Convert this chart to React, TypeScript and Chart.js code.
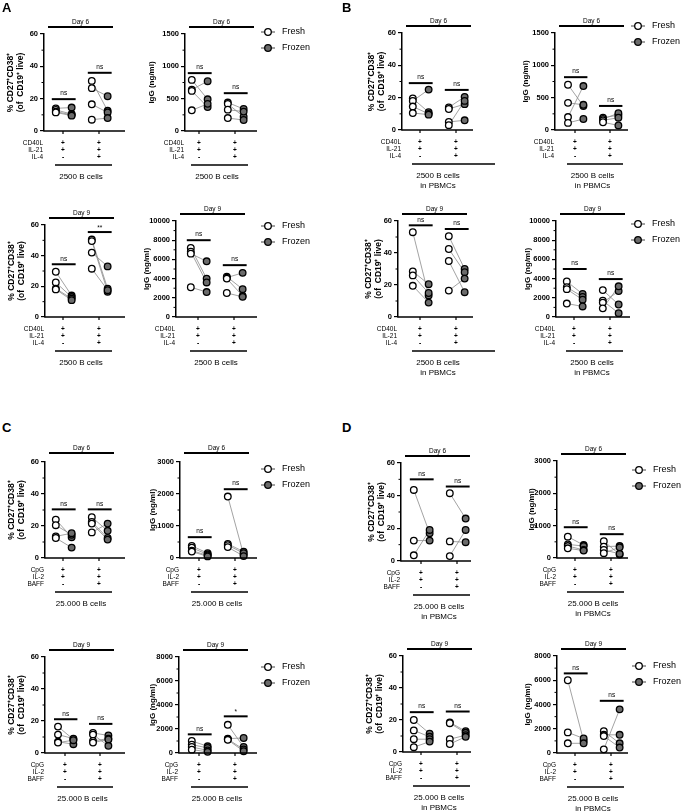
import React, { useEffect, useRef } from "react";
import { Chart, registerables } from "chart.js";
Chart.register(...registerables);

const FONT = "'Liberation Sans', Arial, Helvetica, sans-serif";
const GREY = "#6b6b6b";

// ---------- text ----------
const PCT_TITLE = ["% CD27⁺CD38⁺", "(of  CD19⁺ live)"];
const IGG_TITLE = "IgG (ng/ml)";
const AB_ROWS = ["CD40L", "IL-21", "IL-4"];
const CD_ROWS = ["CpG", "IL-2", "BAFF"];
const SIGNS_G1 = ["+", "+", "-"];
const SIGNS_G2 = ["+", "+", "+"];
const CAP_A = ["2500 B cells"];
const CAP_B = ["2500 B cells", "in PBMCs"];
const CAP_C = ["25.000 B cells"];
const CAP_D = ["25.000 B cells", "in PBMCs"];
const SERIES = ["Fresh", "Frozen"];
const LETTERS = ["A", "B", "C", "D"];

// ---------- data: [group1, group2], donors paired by index ----------
const A_PCT_D6_FRESH = [[14, 13, 12, 11.5], [31, 26.5, 16.5, 7]];
const A_PCT_D6_FROZEN = [[14.5, 10.5, 10, 9.5], [12.5, 21.5, 11.5, 8]];
const A_PCT_D6_SIG = ["ns", "ns"];
const A_PCT_D6_SIGY = [19.7, 36];

const A_IGG_D6_FRESH = [[790, 640, 620, 320], [440, 420, 330, 200]];
const A_IGG_D6_FROZEN = [[490, 770, 370, 420], [340, 220, 300, 170]];
const A_IGG_D6_SIG = ["ns", "ns"];
const A_IGG_D6_SIGY = [895, 585];

const A_PCT_D9_FRESH = [[29.5, 22.5, 18.5, 18], [50.5, 49.5, 42, 31.5]];
const A_PCT_D9_FROZEN = [[14, 13, 12, 11], [18.5, 16.5, 33, 17.5]];
const A_PCT_D9_SIG = ["ns", "**"];
const A_PCT_D9_SIGY = [34.4, 55.4];

const A_IGG_D9_FRESH = [[7200, 6800, 6600, 3100], [4200, 4100, 4000, 2500]];
const A_IGG_D9_FROZEN = [[4000, 3600, 5800, 2600], [2900, 4600, 2200, 2100]];
const A_IGG_D9_SIG = ["ns", "ns"];
const A_IGG_D9_SIGY = [8000, 5400];

const B_PCT_D6_FRESH = [[19.5, 18, 14.5, 10.5], [14, 13, 5, 3]];
const B_PCT_D6_FROZEN = [[11, 25, 10, 9.5], [20.5, 16, 6, 18]];
const B_PCT_D6_SIG = ["ns", "ns"];
const B_PCT_D6_SIGY = [29, 24.8];

const B_IGG_D6_FRESH = [[700, 420, 200, 110], [190, 170, 150, 120]];
const B_IGG_D6_FROZEN = [[370, 390, 680, 170], [230, 260, 190, 70]];
const B_IGG_D6_SIG = ["ns", "ns"];
const B_IGG_D6_SIGY = [817, 372];

const B_PCT_D9_FRESH = [[53, 28.5, 26, 19.5], [50.5, 42.5, 35, 16.5]];
const B_PCT_D9_FROZEN = [[13.5, 20.5, 15, 9], [30, 28, 15.5, 24]];
const B_PCT_D9_SIG = ["ns", "ns"];
const B_PCT_D9_SIGY = [57.3, 55];

const B_IGG_D9_FRESH = [[3700, 3100, 2900, 1400], [2800, 1700, 1500, 900]];
const B_IGG_D9_FROZEN = [[2400, 2100, 1800, 1100], [1300, 400, 2700, 3200]];
const B_IGG_D9_SIG = ["ns", "ns"];
const B_IGG_D9_SIGY = [5000, 3950];

const C_PCT_D6_FRESH = [[24, 20.5, 13.5, 12.5], [25.5, 22.5, 21.5, 16]];
const C_PCT_D6_FROZEN = [[13, 14.5, 15.5, 6.5], [17, 12.5, 11.5, 21.5]];
const C_PCT_D6_SIG = ["ns", "ns"];
const C_PCT_D6_SIGY = [30.4, 30.4];

const C_IGG_D6_FRESH = [[380, 320, 230, 200], [1920, 440, 400, 340]];
const C_IGG_D6_FROZEN = [[150, 110, 80, 50], [100, 200, 150, 60]];
const C_IGG_D6_SIG = ["ns", "ns"];
const C_IGG_D6_SIGY = [651, 2150];

const C_PCT_D9_FRESH = [[16.5, 11.5, 7, 6.5], [12.5, 11.5, 7.5, 6.5]];
const C_PCT_D9_FROZEN = [[8.5, 9, 5.5, 8], [11, 4.5, 9, 8.5]];
const C_PCT_D9_SIG = ["ns", "ns"];
const C_PCT_D9_SIGY = [21.1, 18.2];

const C_IGG_D9_FRESH = [[1000, 700, 500, 280], [2350, 1200, 1150, 1100]];
const C_IGG_D9_FROZEN = [[560, 420, 220, 100], [500, 1250, 300, 150]];
const C_IGG_D9_SIG = ["ns", "*"];
const C_IGG_D9_SIGY = [1555, 3055];

const D_PCT_D6_FRESH = [[43.5, 12.5, 3.5], [41.5, 12, 3]];
const D_PCT_D6_FROZEN = [[17, 12.5, 19], [26, 11.5, 19]];
const D_PCT_D6_SIG = ["ns", "ns"];
const D_PCT_D6_SIGY = [50, 45.6];

const D_IGG_D6_FRESH = [[660, 420, 370, 300], [520, 350, 250, 150]];
const D_IGG_D6_FROZEN = [[400, 370, 250, 230], [110, 370, 130, 330]];
const D_IGG_D6_SIG = ["ns", "ns"];
const D_IGG_D6_SIGY = [952, 737];

const D_PCT_D9_FRESH = [[20, 13.5, 8, 3], [18.5, 18, 8, 5]];
const D_PCT_D9_FROZEN = [[11.5, 9.5, 8, 6.5], [13, 12, 10.5, 9.5]];
const D_PCT_D9_SIG = ["ns", "ns"];
const D_PCT_D9_SIGY = [24.9, 25.3];

const D_IGG_D9_FRESH = [[6000, 1700, 800], [1800, 1500, 1400, 300]];
const D_IGG_D9_FROZEN = [[1000, 1200, 800], [800, 1500, 450, 3600]];
const D_IGG_D9_SIG = ["ns", "ns"];
const D_IGG_D9_SIGY = [6566, 4303];

// ---------- subplot layout (page pixel boxes of each plot area) ----------
const PCT = { title: PCT_TITLE, yMax: 60, yStep: 20, yMinor: 10 };
const SUBPLOTS: any[] = [
  { ...PCT, L: 44, T: 34, R: 125, B: 131, g1: 19, g2: 55, leftW: 38, day: "Day 6", fresh: A_PCT_D6_FRESH, frozen: A_PCT_D6_FROZEN, sig: A_PCT_D6_SIG, sigY: A_PCT_D6_SIGY, rows: AB_ROWS, caption: CAP_A },
  { title: IGG_TITLE, yMax: 1500, yStep: 500, yMinor: 250, L: 185, T: 34, R: 257, B: 131, g1: 14, g2: 50, leftW: 38, day: "Day 6", fresh: A_IGG_D6_FRESH, frozen: A_IGG_D6_FROZEN, sig: A_IGG_D6_SIG, sigY: A_IGG_D6_SIGY, rows: AB_ROWS, caption: CAP_A, legendDy: -2, legendX: 268 },
  { ...PCT, L: 45, T: 225, R: 125, B: 317, g1: 18, g2: 54, leftW: 38, day: "Day 9", fresh: A_PCT_D9_FRESH, frozen: A_PCT_D9_FROZEN, sig: A_PCT_D9_SIG, sigY: A_PCT_D9_SIGY, rows: AB_ROWS, caption: CAP_A },
  { title: IGG_TITLE, yMax: 10000, yStep: 2000, yMinor: 1000, L: 176, T: 221, R: 257, B: 317, g1: 22, g2: 58, leftW: 34, day: "Day 9", fresh: A_IGG_D9_FRESH, frozen: A_IGG_D9_FROZEN, sig: A_IGG_D9_SIG, sigY: A_IGG_D9_SIGY, rows: AB_ROWS, caption: CAP_A, legendDy: 5, legendX: 268 },

  { ...PCT, L: 402, T: 33, R: 473, B: 130, g1: 18, g2: 54, leftW: 35, lineR: 26, day: "Day 6", fresh: B_PCT_D6_FRESH, frozen: B_PCT_D6_FROZEN, sig: B_PCT_D6_SIG, sigY: B_PCT_D6_SIGY, rows: AB_ROWS, caption: CAP_B },
  { title: IGG_TITLE, yMax: 1500, yStep: 500, yMinor: 250, L: 555, T: 33, R: 628, B: 130, g1: 20, g2: 55, leftW: 34, day: "Day 6", fresh: B_IGG_D6_FRESH, frozen: B_IGG_D6_FROZEN, sig: B_IGG_D6_SIG, sigY: B_IGG_D6_SIGY, rows: AB_ROWS, caption: CAP_B, legendDy: -7, legendX: 638 },
  { ...PCT, L: 398, T: 221, R: 473, B: 317, g1: 22, g2: 58, leftW: 34, lineR: 26, day: "Day 9", fresh: B_PCT_D9_FRESH, frozen: B_PCT_D9_FROZEN, sig: B_PCT_D9_SIG, sigY: B_PCT_D9_SIGY, rows: AB_ROWS, caption: CAP_B },
  { title: IGG_TITLE, yMax: 10000, yStep: 2000, yMinor: 1000, L: 556, T: 221, R: 630, B: 317, g1: 18, g2: 54, leftW: 33, day: "Day 9", fresh: B_IGG_D9_FRESH, frozen: B_IGG_D9_FROZEN, sig: B_IGG_D9_SIG, sigY: B_IGG_D9_SIGY, rows: AB_ROWS, caption: CAP_B, legendDy: 3, legendX: 638 },

  { ...PCT, L: 45, T: 462, R: 125, B: 558, g1: 18, g2: 54, leftW: 38, dayDy: 9, day: "Day 6", fresh: C_PCT_D6_FRESH, frozen: C_PCT_D6_FROZEN, sig: C_PCT_D6_SIG, sigY: C_PCT_D6_SIGY, rows: CD_ROWS, caption: CAP_C },
  { title: IGG_TITLE, yMax: 3000, yStep: 1000, yMinor: 500, L: 180, T: 462, R: 257, B: 558, g1: 19, g2: 55, leftW: 32, dayDy: 9, day: "Day 6", fresh: C_IGG_D6_FRESH, frozen: C_IGG_D6_FROZEN, sig: C_IGG_D6_SIG, sigY: C_IGG_D6_SIGY, rows: CD_ROWS, caption: CAP_C, legendDy: 7, legendX: 268 },
  { ...PCT, L: 45, T: 657, R: 125, B: 753, g1: 20, g2: 55, leftW: 38, day: "Day 9", fresh: C_PCT_D9_FRESH, frozen: C_PCT_D9_FROZEN, sig: C_PCT_D9_SIG, sigY: C_PCT_D9_SIGY, rows: CD_ROWS, caption: CAP_C },
  { title: IGG_TITLE, yMax: 8000, yStep: 2000, yMinor: 1000, L: 179, T: 657, R: 257, B: 753, g1: 20, g2: 56, leftW: 31, day: "Day 9", fresh: C_IGG_D9_FRESH, frozen: C_IGG_D9_FROZEN, sig: C_IGG_D9_SIG, sigY: C_IGG_D9_SIGY, rows: CD_ROWS, caption: CAP_C, legendDy: 10, legendX: 268 },

  { ...PCT, L: 401, T: 463, R: 471, B: 561, g1: 20, g2: 56, leftW: 34, day: "Day 6", fresh: D_PCT_D6_FRESH, frozen: D_PCT_D6_FROZEN, sig: D_PCT_D6_SIG, sigY: D_PCT_D6_SIGY, rows: CD_ROWS, caption: CAP_D },
  { title: IGG_TITLE, yMax: 3000, yStep: 1000, yMinor: 500, L: 557, T: 461, R: 628, B: 558, g1: 18, g2: 54, leftW: 30, day: "Day 6", fresh: D_IGG_D6_FRESH, frozen: D_IGG_D6_FROZEN, sig: D_IGG_D6_SIG, sigY: D_IGG_D6_SIGY, rows: CD_ROWS, caption: CAP_D, legendDy: 9, legendX: 639 },
  { ...PCT, L: 403, T: 656, R: 471, B: 752, g1: 18, g2: 54, leftW: 38, day: "Day 9", fresh: D_PCT_D9_FRESH, frozen: D_PCT_D9_FROZEN, sig: D_PCT_D9_SIG, sigY: D_PCT_D9_SIGY, rows: CD_ROWS, caption: CAP_D },
  { title: IGG_TITLE, yMax: 8000, yStep: 2000, yMinor: 1000, L: 557, T: 656, R: 628, B: 753, g1: 18, g2: 54, leftW: 34, day: "Day 9", fresh: D_IGG_D9_FRESH, frozen: D_IGG_D9_FROZEN, sig: D_IGG_D9_SIG, sigY: D_IGG_D9_SIGY, rows: CD_ROWS, caption: CAP_D, legendDy: 10, legendX: 639 },
];

const LETTER_POS = [
  { left: 2, top: 1 },
  { left: 342, top: 1 },
  { left: 2, top: 421 },
  { left: 342, top: 421 },
];

const TOP_P = 20;
const BOT_P = 64;
const FRESH_OFF = -0.2;
const FROZEN_OFF = 0.24;

function drawExtras(chart: any, cfg: any) {
  const ctx = chart.ctx;
  const xs = chart.scales.x;
  const ys = chart.scales.y;
  const ca = chart.chartArea;
  const px = (v: number) => xs.getPixelForValue(v);
  const line = (x1: number, y1: number, x2: number, y2: number, w: number, c = "#000") => {
    ctx.beginPath();
    ctx.lineWidth = w;
    ctx.strokeStyle = c;
    ctx.moveTo(x1, y1);
    ctx.lineTo(x2, y2);
    ctx.stroke();
  };
  const text = (s: string, x: number, y: number, size: number, align = "center", weight = "normal") => {
    ctx.font = `${weight} ${size}px ${FONT}`;
    ctx.textAlign = align;
    ctx.textBaseline = "middle";
    ctx.fillStyle = "#000";
    ctx.fillText(s, x, y);
  };
  ctx.save();
  // minor ticks
  for (let v = cfg.yMinor; v < cfg.yMax; v += cfg.yMinor) {
    const r = v / cfg.yStep;
    if (Math.abs(r - Math.round(r)) < 1e-6) continue;
    const y = ys.getPixelForValue(v);
    line(ca.left - 2.5, y, ca.left, y, 1);
  }
  // x axis
  line(ca.left - 0.75, ca.bottom, ca.right, ca.bottom, 1.5);
  [1, 2].forEach((g) => line(px(g), ca.bottom, px(g), ca.bottom + 3, 1.2));
  // day bar
  const dy = ca.top - (cfg.dayDy ?? 7);
  line(ca.left + 4, dy, ca.left + 69, dy, 2);
  text(cfg.day, ca.left + 36.5, dy - 5, 6.5);
  // significance bars
  [1, 2].forEach((g, gi) => {
    const y = ys.getPixelForValue(cfg.sigY[gi]);
    const x1 = px(g + FRESH_OFF) - 4;
    const x2 = px(g + FROZEN_OFF) + 4;
    line(x1, y, x2, y, 2);
    const s = cfg.sig[gi];
    text(s, (x1 + x2) / 2, y - (s === "ns" ? 5.5 : 4), 6.5);
  });
  // treatment table
  cfg.rows.forEach((r: string, ri: number) => {
    const y = ca.bottom + 12 + ri * 7.3;
    text(r, ca.left - 1, y, 6.5, "right");
    text(SIGNS_G1[ri], px(1), y, 6.5, "center", "bold");
    text(SIGNS_G2[ri], px(2), y, 6.5, "center", "bold");
  });
  line(px(1) - 8, ca.bottom + 34, px(2) + 13 + (cfg.lineR || 0), ca.bottom + 34, 1.5);
  cfg.caption.forEach((c: string, i: number) =>
    text(c, (px(1) + px(2)) / 2, ca.bottom + 46 + i * 9.5, 8)
  );
  // legend
  if (cfg.legendDy !== undefined) {
    const cx = ca.right + (cfg.legendX - cfg.R);
    SERIES.forEach((s, i) => {
      const cy = ca.top + cfg.legendDy + i * 16;
      line(cx - 7, cy, cx + 7, cy, 1, "#444");
      ctx.beginPath();
      ctx.arc(cx, cy, 3.3, 0, Math.PI * 2);
      ctx.fillStyle = i === 0 ? "#fff" : GREY;
      ctx.fill();
      ctx.lineWidth = 1.3;
      ctx.strokeStyle = "#000";
      ctx.stroke();
      text(s, cx + 14, cy, 9, "left");
    });
  }
  ctx.restore();
}

function Subplot({ cfg }: { cfg: any }) {
  const ref = useRef<HTMLCanvasElement>(null);
  const leftW = cfg.leftW;
  const rightP = cfg.legendDy !== undefined ? Math.min(75, 681 - cfg.R) : 32;
  const W = cfg.R - cfg.L;
  const H = cfg.B - cfg.T;
  const cw = leftW + W + rightP;
  const chh = TOP_P + H + BOT_P;
  const d = cfg.g2 - cfg.g1;
  const xmin = 1 - cfg.g1 / d;
  const xmax = 1 + (W - cfg.g1) / d;

  useEffect(() => {
    if (!ref.current) return;
    const lineSets: any[] = [];
    [1, 2].forEach((g, gi) =>
      cfg.fresh[gi].forEach((f: number, i: number) =>
        lineSets.push({
          data: [
            { x: g + FRESH_OFF, y: f },
            { x: g + FROZEN_OFF, y: cfg.frozen[gi][i] },
          ],
          showLine: true,
          borderColor: "#8c8c8c",
          borderWidth: 0.8,
          pointRadius: 0,
          clip: false,
          order: 3,
        })
      )
    );
    const freshPts = {
      data: [1, 2].flatMap((g, gi) => cfg.fresh[gi].map((v: number) => ({ x: g + FRESH_OFF, y: v }))),
      showLine: false,
      pointRadius: 3.3,
      pointBackgroundColor: "#fff",
      pointBorderColor: "#000",
      pointBorderWidth: 1.3,
      clip: false,
      order: 1,
    };
    const frozenPts = {
      data: [1, 2].flatMap((g, gi) => cfg.frozen[gi].map((v: number) => ({ x: g + FROZEN_OFF, y: v }))),
      showLine: false,
      pointRadius: 3.3,
      pointBackgroundColor: GREY,
      pointBorderColor: "#000",
      pointBorderWidth: 1.3,
      clip: false,
      order: 2,
    };
    const isPct = Array.isArray(cfg.title);
    const chart = new Chart(ref.current, {
      type: "scatter",
      data: { datasets: [...lineSets, freshPts, frozenPts] },
      options: {
        responsive: false,
        animation: false,
        devicePixelRatio: 1,
        events: [],
        layout: { padding: { left: 0, top: TOP_P, right: rightP, bottom: BOT_P } },
        plugins: { legend: { display: false }, tooltip: { enabled: false } },
        scales: {
          x: { type: "linear", display: false, min: xmin, max: xmax },
          y: {
            type: "linear",
            min: 0,
            max: cfg.yMax,
            afterFit: (s: any) => {
              s.width = leftW;
            },
            border: { display: true, color: "#000", width: 1.5 },
            grid: { display: true, drawOnChartArea: false, drawTicks: true, tickLength: 4, color: "#000", lineWidth: 1.2 },
            ticks: {
              stepSize: cfg.yStep,
              autoSkip: false,
              color: "#000",
              padding: 2,
              font: { family: FONT, size: 7.5, weight: "bold" },
              callback: (v: any) => String(v),
            },
            title: {
              display: true,
              text: cfg.title,
              color: "#000",
              font: { family: FONT, size: isPct ? 8.5 : 8, weight: "bold", lineHeight: 1.15 },
              padding: { top: 0, bottom: 0 },
            },
          },
        },
      } as any,
      plugins: [
        {
          id: "extras",
          afterDraw: (c: any) => drawExtras(c, cfg),
        },
      ],
    });
    return () => chart.destroy();
  }, []);

  return (
    <canvas
      ref={ref}
      width={cw}
      height={chh}
      style={{ position: "absolute", left: cfg.L - leftW, top: cfg.T - TOP_P, width: cw, height: chh }}
    />
  );
}

export default function App() {
  return (
    <div
      style={{
        position: "fixed",
        left: 0,
        top: 0,
        width: 681,
        height: 812,
        background: "#fff",
        overflow: "hidden",
      }}
    >
      {SUBPLOTS.map((s, i) => (
        <Subplot key={i} cfg={s} />
      ))}
      {LETTERS.map((l, i) => (
        <div
          key={l}
          style={{
            position: "absolute",
            left: LETTER_POS[i].left,
            top: LETTER_POS[i].top,
            fontFamily: FONT,
            fontWeight: "bold",
            fontSize: 13,
            lineHeight: "14px",
            color: "#000",
          }}
        >
          {l}
        </div>
      ))}
    </div>
  );
}
